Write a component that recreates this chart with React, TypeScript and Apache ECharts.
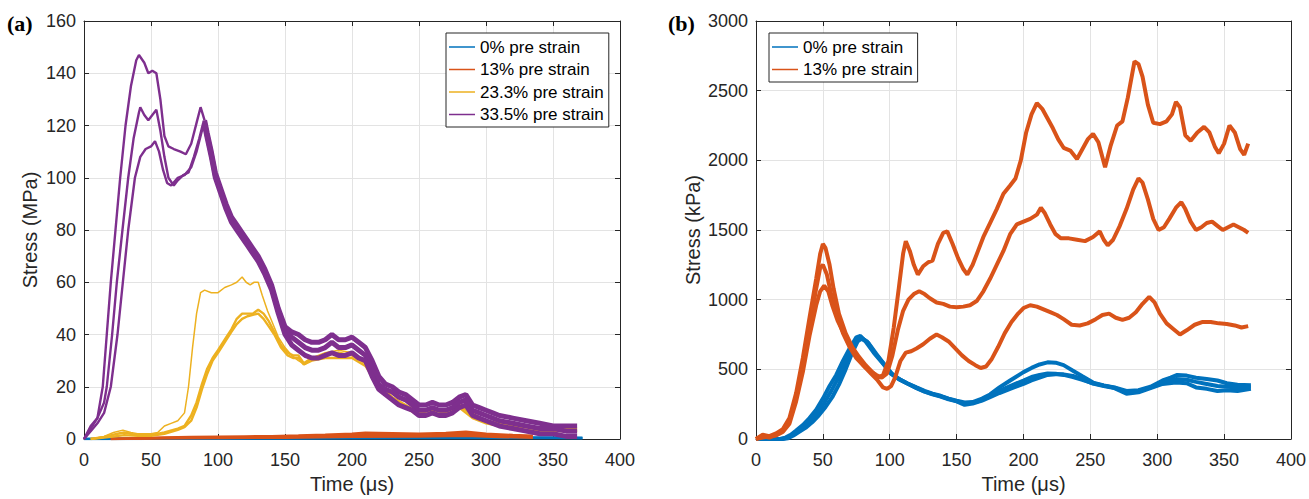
import React, { useEffect, useRef } from "react";
import * as echarts from "echarts";

type P = [number, number];

// ---------- Panel (a): Stress (MPa) vs Time (µs) ----------
const blueA1: P[] = [[0,0],[50,0.1],[100,0.2],[150,0.3],[200,0.5],[250,0.6],[300,0.6],[350,0.6],[372,0.5]];
const blueA2: P[] = [[0,0],[50,0.05],[100,0.1],[150,0.2],[200,0.3],[250,0.35],[300,0.4],[350,0.4],[372,0.3]];

const orangeA1: P[] = [[20,0],[40,0.3],[60,0.6],[80,0.8],[100,0.9],[120,1.0],[140,1.1],[160,1.3],[180,1.6],[200,2.0],[210,2.4],[230,2.2],[250,2.0],[270,2.3],[285,2.8],[300,2.0],[320,1.5],[335,1.2]];
const orangeA2: P[] = [[20,0],[60,0.4],[100,0.6],[150,0.8],[200,1.4],[210,1.7],[250,1.6],[285,2.0],[310,1.3],[335,0.8]];
const orangeA3: P[] = [[20,0],[60,0.3],[100,0.4],[150,0.5],[200,0.9],[250,1.0],[285,1.2],[310,0.8],[335,0.5]];

const yellowA1: P[] = [[5,0],[15,1],[22,2.5],[29,3.4],[35,2.5],[40,2],[50,2],[55,2.5],[60,5],[65,6],[70,7],[75,10],[78,20],[81,35],[84,48],[87,56],[90,57],[95,56],[100,56],[105,58],[110,59],[114,60],[118,62],[121,60],[124,59],[127,60],[130,60],[133,55],[137,49],[141,44],[145,39],[150,35],[155,32],[160,30],[165,28.5],[170,31],[180,33],[190,34],[200,33],[210,30],[220,21],[230,16],[240,13],[250,10],[260,11],[270,10],[280,14],[290,10],[300,7],[320,5],[340,4],[368,3]];
const yellowA2: P[] = [[5,0],[15,0.8],[25,2],[30,2.5],[40,1.5],[50,1.5],[60,2.5],[70,4],[75,5],[80,9],[84,14],[88,21],[92,27],[96,31],[100,34],[105,38],[110,42],[114,46],[118,48],[122,48],[126,48],[130,49.5],[134,48],[138,45],[142,41],[147,36],[152,33],[156,32],[160,32],[164,29],[170,31],[180,32],[190,33],[200,32],[210,29],[220,21],[230,16],[240,13],[250,10],[260,11],[270,10],[280,13],[290,9],[300,7],[320,5],[340,4],[368,4]];
const yellowA3: P[] = [[5,0],[20,0.8],[30,1.5],[40,1.2],[50,1.2],[60,2],[70,3.5],[75,4.5],[80,7],[84,12],[88,19],[92,25],[96,30],[100,33],[105,37],[110,41],[114,44],[118,46],[122,47],[126,47.5],[130,48],[134,46],[138,43],[142,40],[147,35],[152,32],[156,31],[160,31],[164,28.5],[170,30],[180,31],[190,31],[200,31],[210,28],[220,20],[230,15],[240,12],[250,9],[260,10],[270,9],[280,12],[290,8],[300,6],[320,4],[340,3],[368,3]];

// 33.5 %: rising part + first peaks (three tests)
const purpleHeadA1: P[] = [[0,0],[5,5],[10,8],[14,20],[17,40],[20,60],[23.5,80],[27,100],[31,120],[35,135],[39,145],[41,147],[45,144],[48,140],[51,141],[54,140],[57,130],[60,116],[63,112],[67,111],[72,110],[76,109],[80,113],[84,121],[87,127],[90,122]];
const purpleHeadA2: P[] = [[0,0],[5,4],[10,8],[15,14],[17,20],[21,40],[24.5,60],[28.7,80],[33,100],[37,115],[41,125],[42,127],[45,124],[48,122],[51,124],[54,126],[57,118],[60,108],[63,100],[67,97],[70,99],[74,101],[78,102],[82,108],[86,115],[89,121],[90,121]];
const purpleHeadA3: P[] = [[0,0],[5,3],[10,6],[15,10],[20,20],[25,40],[29,60],[33,80],[38,100],[42,108],[46,111],[50,112],[53,114],[56,110],[59,103],[62,98],[65,97],[70,100],[75,101],[80,104],[84,110],[88,118],[90,120]];
// 33.5 %: noisy decay (shared time base)
const purpleTailT = [90,92,95,98,102,106,110,114,118,122,126,130,135,140,145,150,155,160,165,170,175,180,185,190,195,200,205,210,215,220,225,230,235,240,245,250,255,260,265,270,275,280,285,290,295,300,305,310,320,330,340,350,360,368];
const purpleTailA1 = [122,117,110,102,96,90,85,82,79,76,73,70,65,59,50,43,41,40,38,37,37,38,40,38,38,39,37,35,30,24,21,20,18,17,15,13,13,14,13,13,14,16,17,13,12,11,10,9,8,7,6,5,5,5];
const purpleTailA2 = [121,116,109,101,95,89,84,81,78,75,72,69,64,58,49,42,39,37,35,34,34,35,37,35,35,36,34,32,27,21,19,18,16,15,13,11,11,12,11,11,12,14,15,11,10,9,8,7,6,5,4,4,3,3];
const purpleTailA3 = [120,115,108,100,94,88,83,80,77,74,71,68,63,57,48,40,36,34,32,31,31,32,33,32,32,33,31,30,24,19,17,15,13,12,11,9,9,10,9,9,10,12,13,9,8,7,6,5,4,3,2,2,1,1];

// ---------- Panel (b): Stress (kPa) vs Time (µs) ----------
const blueB1: P[] = [[0,0],[18,0],[22,10],[26,30],[30,60],[35,100],[40,150],[45,210],[50,290],[55,380],[60,460],[65,560],[70,650],[75,730],[78,740],[82,700],[88,620],[95,540],[101,470],[107,430],[113,400],[120,370],[126,345],[132,325],[138,310],[144,290],[150,275],[156,262],[162,265],[169,290],[175,320],[182,370],[190,420],[200,480],[206,510],[212,535],[218,550],[224,548],[230,530],[237,490],[244,450],[252,405],[260,385],[268,370],[277,345],[286,350],[295,375],[304,420],[310,440],[315,460],[322,455],[329,440],[337,430],[345,420],[352,400],[360,390],[370,385]];
const blueB2: P[] = [[0,0],[20,0],[24,5],[28,25],[32,50],[37,80],[42,120],[47,170],[52,230],[57,300],[62,390],[67,500],[72,620],[76,700],[79,720],[84,690],[90,610],[96,535],[102,465],[108,425],[114,395],[120,365],[126,340],[132,320],[138,305],[144,285],[150,270],[156,245],[162,255],[169,275],[175,300],[182,330],[190,360],[200,395],[206,420],[212,440],[218,460],[224,465],[230,464],[237,452],[244,430],[252,398],[260,380],[268,365],[277,325],[286,335],[295,365],[304,395],[314,405],[322,400],[329,370],[337,360],[345,345],[352,350],[360,345],[370,360]];
const blueB3: P[] = [[0,0],[19,0],[23,8],[27,30],[31,55],[36,90],[41,135],[46,190],[51,260],[56,340],[61,430],[66,530],[71,640],[75,710],[78,730],[83,700],[89,615],[95,545],[101,468],[107,428],[113,398],[120,367],[126,342],[132,322],[138,308],[144,288],[150,272],[156,255],[162,260],[169,280],[175,310],[182,345],[190,380],[200,420],[206,445],[212,460],[218,470],[224,468],[230,460],[237,445],[244,425],[252,400],[260,383],[268,368],[277,335],[286,345],[295,370],[304,405],[314,430],[322,425],[329,410],[337,395],[345,380],[352,375],[360,370],[370,375]];

const orangeB1: P[] = [[0,0],[5,30],[10,20],[15,40],[20,70],[25,150],[30,330],[35,580],[40,870],[45,1150],[48,1330],[50,1400],[52,1370],[55,1250],[58,1080],[62,900],[67,760],[72,660],[77,590],[82,530],[87,480],[91,440],[95,460],[99,560],[103,800],[107,1100],[110,1330],[112,1420],[115,1350],[118,1250],[121,1180],[125,1240],[129,1270],[132,1280],[136,1400],[140,1480],[143,1490],[147,1400],[151,1300],[155,1220],[158,1180],[162,1250],[166,1350],[170,1450],[175,1550],[180,1650],[185,1760],[190,1820],[194,1870],[198,2000],[202,2200],[206,2330],[210,2410],[214,2370],[218,2300],[222,2230],[226,2150],[230,2090],[235,2070],[240,2010],[244,2080],[248,2150],[252,2190],[256,2130],[261,1950],[265,2100],[270,2250],[274,2280],[278,2450],[283,2710],[286,2690],[289,2600],[293,2400],[297,2270],[302,2260],[307,2280],[311,2330],[314,2420],[317,2380],[321,2180],[325,2140],[330,2200],[335,2240],[339,2200],[343,2100],[346,2050],[350,2120],[354,2250],[358,2200],[362,2080],[365,2040],[368,2120]];
const orangeB2: P[] = [[0,0],[5,20],[10,10],[15,30],[20,60],[25,130],[30,300],[35,530],[40,800],[45,1080],[48,1230],[50,1250],[53,1180],[56,1050],[60,900],[65,760],[70,660],[75,580],[80,530],[85,490],[90,460],[94,440],[98,470],[102,600],[106,780],[110,920],[114,1000],[118,1040],[122,1060],[126,1040],[130,1010],[135,980],[140,970],[145,950],[150,945],[155,950],[160,960],[165,990],[170,1060],[175,1150],[180,1250],[185,1350],[190,1470],[195,1540],[200,1560],[205,1580],[210,1610],[213,1660],[216,1620],[220,1540],[224,1470],[228,1440],[234,1440],[240,1430],[246,1420],[252,1450],[257,1490],[260,1430],[263,1390],[267,1430],[272,1530],[277,1650],[282,1790],[286,1870],[289,1840],[293,1720],[297,1580],[301,1500],[305,1520],[309,1580],[314,1660],[318,1700],[321,1650],[325,1560],[329,1500],[333,1520],[337,1550],[341,1560],[345,1530],[349,1500],[353,1520],[357,1540],[361,1520],[365,1500],[368,1480]];
const orangeB3: P[] = [[0,0],[5,10],[10,20],[15,25],[20,50],[25,110],[30,270],[35,480],[40,740],[45,960],[48,1060],[51,1100],[54,1060],[57,960],[61,850],[66,750],[71,650],[76,580],[81,520],[86,470],[91,420],[95,370],[98,360],[101,380],[104,440],[108,560],[112,620],[116,630],[120,650],[125,680],[130,720],[135,750],[139,730],[144,700],[149,650],[154,600],[159,560],[164,530],[168,510],[172,520],[176,570],[181,660],[186,760],[191,840],[196,900],[200,940],[205,960],[210,950],[215,930],[220,910],[225,890],[230,860],[236,820],[242,815],[248,830],[254,860],[259,890],[264,900],[269,870],[274,855],[279,870],[284,910],[289,970],[294,1020],[298,980],[302,900],[307,830],[312,790],[317,750],[322,780],[328,820],[334,840],[340,840],[346,830],[352,825],[358,815],[363,800],[368,810]];

const namesA = ["0% pre strain", "13% pre strain", "23.3% pre strain", "33.5% pre strain"];
const namesB = ["0% pre strain", "13% pre strain"];
const xTicks = { min: 0, max: 400, interval: 50 };
const yTicksA = { min: 0, max: 160, interval: 20 };
const yTicksB = { min: 0, max: 3000, interval: 500 };

const C_BLUE = "#0072BD";
const C_ORANGE = "#D95319";
const C_YELLOW = "#EDB120";
const C_PURPLE = "#7E2F8E";
const AX = "#262626";
const FONT = "Liberation Sans, Arial, sans-serif";

const zipT = (t: number[], v: number[]): P[] => t.map((x, i) => [x, v[i]] as P);

function mainX(grid: number, name: string) {
  return {
    type: "value", gridIndex: grid, position: "bottom", ...xTicks,
    axisLine: { show: true, onZero: false, lineStyle: { color: AX, width: 1 } },
    axisTick: { show: true, inside: true, length: 5, lineStyle: { color: AX } },
    axisLabel: { fontSize: 18, color: AX, margin: 12, fontFamily: FONT, formatter: (v: number) => String(v) },
    splitLine: { show: true, lineStyle: { color: "#e3e3e3", width: 1 } },
    name, nameLocation: "middle", nameGap: 35,
    nameTextStyle: { fontSize: 20, color: AX, fontFamily: FONT },
  };
}
function boxX(grid: number) {
  return {
    type: "value", gridIndex: grid, position: "top", ...xTicks,
    axisLine: { show: true, onZero: false, lineStyle: { color: AX, width: 1 } },
    axisTick: { show: true, inside: true, length: 5, lineStyle: { color: AX } },
    axisLabel: { show: false }, splitLine: { show: false },
  };
}
function mainY(grid: number, ticks: any, name: string, gap: number) {
  return {
    type: "value", gridIndex: grid, position: "left", ...ticks,
    axisLine: { show: true, onZero: false, lineStyle: { color: AX, width: 1 } },
    axisTick: { show: true, inside: true, length: 5, lineStyle: { color: AX } },
    axisLabel: { fontSize: 18, color: AX, margin: 8, fontFamily: FONT, formatter: (v: number) => String(v) },
    splitLine: { show: true, lineStyle: { color: "#e3e3e3", width: 1 } },
    name, nameLocation: "middle", nameGap: gap,
    nameTextStyle: { fontSize: 20, color: AX, fontFamily: FONT },
  };
}
function boxY(grid: number, ticks: any) {
  return {
    type: "value", gridIndex: grid, position: "right", ...ticks,
    axisLine: { show: true, onZero: false, lineStyle: { color: AX, width: 1 } },
    axisTick: { show: true, inside: true, length: 5, lineStyle: { color: AX } },
    axisLabel: { show: false }, splitLine: { show: false },
  };
}

function line(name: string, data: P[], color: string, width: number, xi: number, yi: number) {
  return {
    type: "line", name, data, xAxisIndex: xi, yAxisIndex: yi,
    showSymbol: false, symbol: "none", silent: true,
    lineStyle: { color, width }, itemStyle: { color },
  };
}

function legendOf(names: string[], left: number, top: number) {
  return {
    data: names, left, top, orient: "vertical", selectedMode: false,
    icon: "rect", itemWidth: 26, itemHeight: 1.5, itemGap: 5.5,
    padding: [5.5, 5, 4, 3],
    backgroundColor: "#ffffff", borderColor: AX, borderWidth: 1,
    textStyle: { fontSize: 17, lineHeight: 17, color: "#000", fontFamily: FONT },
  };
}

export default function App() {
  const ref = useRef<HTMLDivElement>(null);
  useEffect(() => {
    if (!ref.current) return;
    const chart = echarts.init(ref.current, null, { renderer: "svg" });
    chart.setOption({
      animation: false,
      backgroundColor: "#ffffff",
      grid: [
        { left: 84, top: 21, width: 536, height: 420 },
        { left: 756, top: 21, width: 537, height: 420 },
      ],
      xAxis: [mainX(0, "Time (μs)"), boxX(0), mainX(1, "Time (μs)"), boxX(1)],
      yAxis: [
        mainY(0, yTicksA, "Stress (MPa)", 44), boxY(0, yTicksA),
        mainY(1, yTicksB, "Stress (kPa)", 53), boxY(1, yTicksB),
      ],
      legend: [legendOf(namesA, 446, 33), legendOf(namesB, 769, 33)],
      graphic: [
        { type: "text", left: 7, top: 12, style: { text: "(a)", font: "bold 22px 'Liberation Serif', serif", fill: "#000" } },
        { type: "text", left: 668, top: 12, style: { text: "(b)", font: "bold 22px 'Liberation Serif', serif", fill: "#000" } },
      ],
      series: [
        line(namesA[0], blueA1, C_BLUE, 2.5, 0, 0),
        line(namesA[0], blueA2, C_BLUE, 2.5, 0, 0),
        line(namesA[1], orangeA1, C_ORANGE, 2.5, 0, 0),
        line(namesA[1], orangeA2, C_ORANGE, 2.5, 0, 0),
        line(namesA[1], orangeA3, C_ORANGE, 2.5, 0, 0),
        line(namesA[2], yellowA1, C_YELLOW, 1.5, 0, 0),
        line(namesA[2], yellowA2, C_YELLOW, 2.4, 0, 0),
        line(namesA[2], yellowA3, C_YELLOW, 2.4, 0, 0),
        line(namesA[3], purpleHeadA1, C_PURPLE, 2.4, 0, 0),
        line(namesA[3], purpleHeadA2, C_PURPLE, 2.4, 0, 0),
        line(namesA[3], purpleHeadA3, C_PURPLE, 2.4, 0, 0),
        line(namesA[3], zipT(purpleTailT, purpleTailA1), C_PURPLE, 5, 0, 0),
        line(namesA[3], zipT(purpleTailT, purpleTailA2), C_PURPLE, 5, 0, 0),
        line(namesA[3], zipT(purpleTailT, purpleTailA3), C_PURPLE, 5, 0, 0),
        line(namesB[0], blueB1, C_BLUE, 4, 2, 2),
        line(namesB[0], blueB2, C_BLUE, 4, 2, 2),
        line(namesB[0], blueB3, C_BLUE, 4, 2, 2),
        line(namesB[1], orangeB1, C_ORANGE, 4, 2, 2),
        line(namesB[1], orangeB2, C_ORANGE, 4, 2, 2),
        line(namesB[1], orangeB3, C_ORANGE, 4, 2, 2),
      ],
    });
    return () => chart.dispose();
  }, []);
  return (
    <div
      ref={ref}
      style={{ position: "absolute", left: 0, top: 0, width: 1309, height: 499 }}
    />
  );
}
